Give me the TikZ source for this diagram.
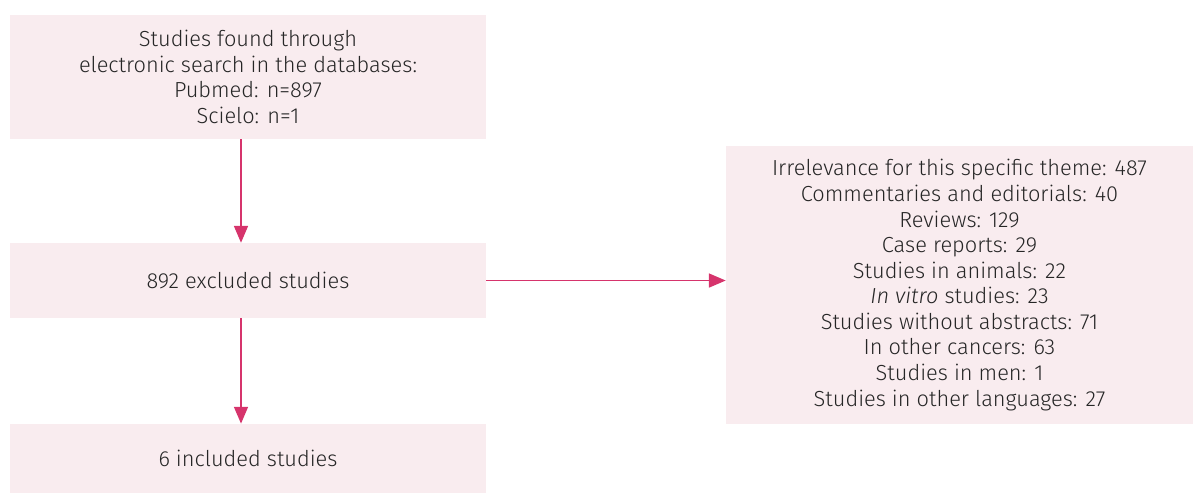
\documentclass[tikz,border=0pt]{standalone}
\usepackage{fontspec}
\setmainfont{Fira Sans}[UprightFont={* Light},ItalicFont={* Light Italic}]
\usetikzlibrary{arrows.meta}
\definecolor{boxpink}{RGB}{249,236,239}
\definecolor{arrowred}{RGB}{214,52,108}
\tikzset{
  flowbox/.style={fill=boxpink, draw=none, align=center, inner sep=0pt,
    font=\fontsize{15.5}{18.2}\selectfont, text=black!85},
  flowarrow/.style={draw=arrowred, line width=1pt,
    -{Triangle[length=12pt,width=10pt]}}
}
\begin{document}
\begin{tikzpicture}
    \useasboundingbox (0,0) rectangle (29.825,-12.35);
    \node[flowbox, minimum width=11.9cm, minimum height=3.1cm] (found) at (6.2,-1.925)
        {Studies found through\\electronic search in the databases:\\Pubmed: n=897\\Scielo: n=1};
    \node[flowbox, minimum width=11.9cm, minimum height=1.875cm] (excl) at (6.2,-7.013)
        {892 excluded studies};
    \node[flowbox, minimum width=11.9cm, minimum height=1.725cm] (incl) at (6.2,-11.46)
        {6 included studies};
    \node[flowbox, minimum width=11.675cm, minimum height=6.95cm] (reasons) at (23.9875,-7.125)
        {Irrelevance for this specific theme: 487\\
         Commentaries and editorials: 40\\
         Reviews: 129\\
         Case reports: 29\\
         Studies in animals: 22\\
         \textit{In vitro} studies: 23\\
         Studies without abstracts: 71\\
         In other cancers: 63\\
         Studies in men: 1\\
         Studies in other languages: 27};
    % arrows
    \draw[flowarrow] ([xshift=-0.175cm]found.south) -- ([xshift=-0.175cm]excl.north);
    \draw[flowarrow] ([xshift=-0.175cm]excl.south) -- ([xshift=-0.175cm]incl.north);
    \draw[flowarrow] (excl.east) -- (reasons.west |- excl.east);
\end{tikzpicture}
\end{document}
